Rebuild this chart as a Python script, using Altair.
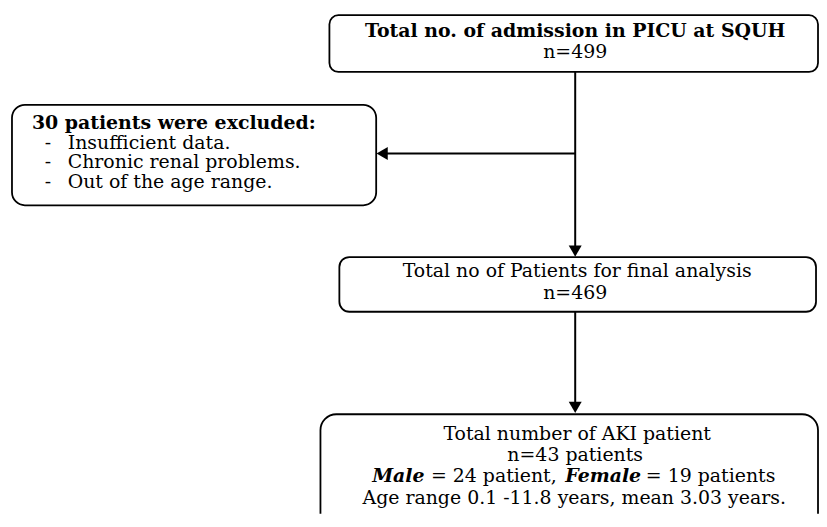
import altair as alt
import pandas as pd

# ---- content ----
box_names = ["admission", "excluded", "final", "aki"]
# box layout (page pixels)
box_x1 = [331, 12, 341, 322]
box_x2 = [822, 378, 820, 822]
box_y1 = [14, 104, 257, 415]
box_y2 = [71, 205, 312, 560]
box_radius = [9, 13, 10, 16]

# text pieces
txt = [
    "Total no. of admission in PICU at SQUH", "n=499",
    "30 patients were excluded:", "-", "Insufficient data.", "-", "Chronic renal problems.", "-", "Out of the age range.",
    "Total no of Patients for final analysis", "n=469",
    "Total number of AKI patient", "n=43 patients",
    "Male", "= 24 patient,", "Female", "= 19 patients",
    "Age range 0.1 -11.8 years, mean 3.03 years.",
]
txt_x = [578, 578, 32, 45, 68, 45, 68, 45, 68, 580, 578, 580, 578, 374, 433, 568, 649, 577]
txt_y = [30, 51, 122, 142, 142, 162, 162, 182, 182, 271, 293, 435, 456, 477, 477, 477, 477, 499]
txt_style = ["bold", "normal", "bold", "normal", "normal", "normal", "normal", "normal", "normal",
             "normal", "normal", "normal", "normal", "bolditalic", "normal", "bolditalic", "normal", "normal"]
txt_align = ["center", "center", "left", "left", "left", "left", "left", "left", "left",
             "center", "center", "center", "center", "left", "left", "left", "left", "center"]

# connectors
line_x1 = [578, 578, 578]
line_y1 = [71, 153, 312]
line_x2 = [578, 386, 578]
line_y2 = [250, 153, 405]
arrow_x = [578, 384, 578]
arrow_y = [251, 153, 408]
arrow_shape = ["triangle-down", "triangle-left", "triangle-down"]

W, H = 815, 507
xs = alt.Scale(domain=[8, 8 + W], nice=False, zero=False)
ys = alt.Scale(domain=[8, 8 + H], nice=False, zero=False, reverse=True)
FONT = "DejaVu Serif"
FS = 19

boxes = pd.DataFrame({"name": box_names, "x1": box_x1, "x2": box_x2, "y1": box_y1, "y2": box_y2, "r": box_radius})
texts = pd.DataFrame({"t": txt, "x": txt_x, "y": txt_y, "s": txt_style, "a": txt_align})
lines = pd.DataFrame({"x1": line_x1, "y1": line_y1, "x2": line_x2, "y2": line_y2})
arrows = pd.DataFrame({"x": arrow_x, "y": arrow_y, "shape": arrow_shape})

layers = []
for r in sorted(set(box_radius)):
    layers.append(
        alt.Chart(boxes[boxes.r == r]).mark_rect(
            cornerRadius=r, fill="white", stroke="black", strokeWidth=1.8, clip=True
        ).encode(
            x=alt.X("x1:Q", scale=xs, axis=None), x2="x2:Q",
            y=alt.Y("y1:Q", scale=ys, axis=None), y2="y2:Q",
        )
    )

layers.append(
    alt.Chart(lines).mark_rule(color="black", strokeWidth=2).encode(
        x=alt.X("x1:Q", scale=xs, axis=None), x2="x2:Q",
        y=alt.Y("y1:Q", scale=ys, axis=None), y2="y2:Q",
    )
)
for shp in ["triangle-down", "triangle-left"]:
    layers.append(
        alt.Chart(arrows[arrows["shape"] == shp]).mark_point(
            shape=shp, filled=True, color="black", size=170, opacity=1
        ).encode(
            x=alt.X("x:Q", scale=xs, axis=None),
            y=alt.Y("y:Q", scale=ys, axis=None),
        )
    )

style_map = {
    "bold": dict(fontWeight="bold", fontStyle="normal", fontSize=FS),
    "normal": dict(fontWeight="normal", fontStyle="normal", fontSize=FS),
    "bolditalic": dict(fontWeight="bold", fontStyle="italic", fontSize=FS),
}
for s, props in style_map.items():
    for a in ["left", "center"]:
        sub = texts[(texts.s == s) & (texts.a == a)]
        if len(sub) == 0:
            continue
        layers.append(
            alt.Chart(sub).mark_text(
                font=FONT, align=a, baseline="middle", color="black", **props
            ).encode(
                x=alt.X("x:Q", scale=xs, axis=None),
                y=alt.Y("y:Q", scale=ys, axis=None),
                text="t:N",
            )
        )

chart = alt.layer(*layers).properties(
    width=W, height=H, padding=0, autosize=alt.AutoSizeParams(type="none")
).configure_view(strokeWidth=0)
chart.save("out.html", embed_options={"renderer": "svg", "actions": False})
